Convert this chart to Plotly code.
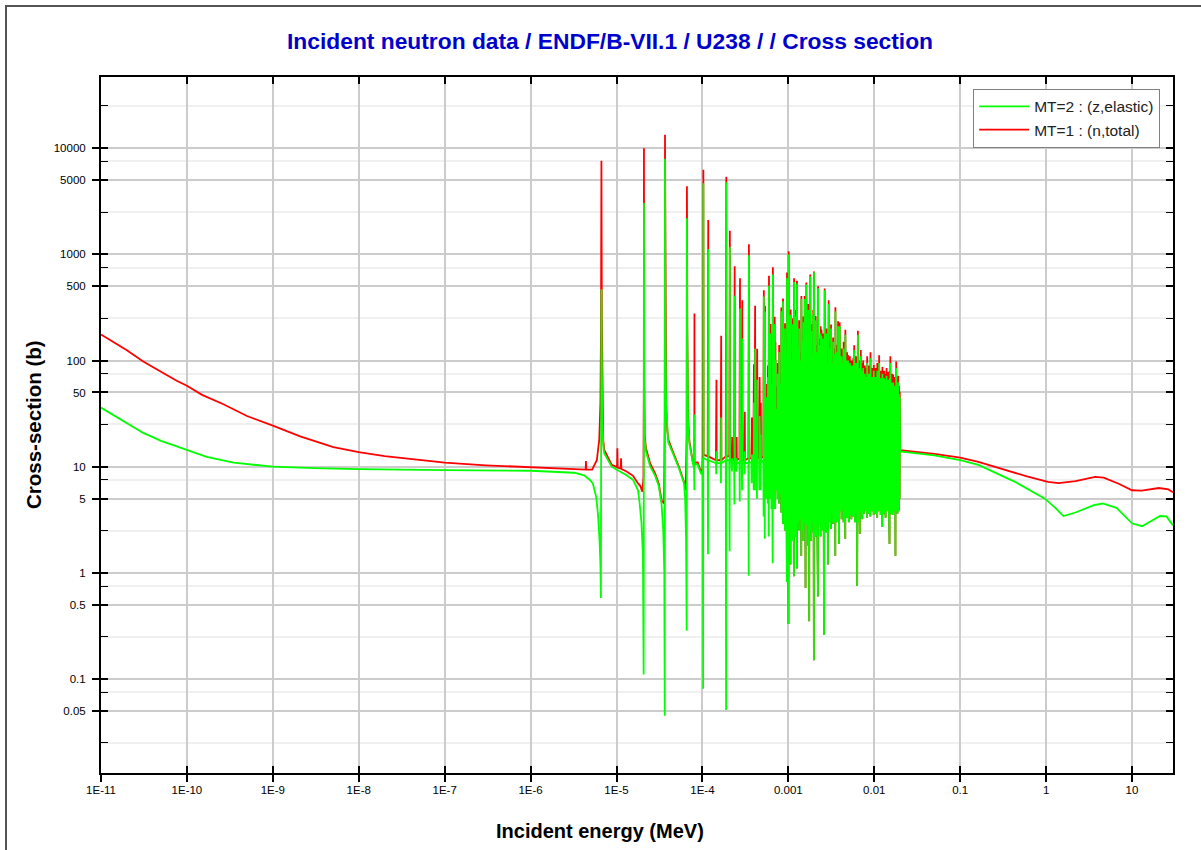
import math
import plotly.graph_objects as go

# ---------------- data (energy in MeV, cross-section in b) ----------------
# thermal / low-energy region incl. first s-wave resonances, total (MT=1)
tot_low_E = [1e-11, 2e-11, 3.1e-11, 5e-11, 7.6e-11, 1e-10, 1.5e-10, 2.66e-10, 5e-10, 1e-9,
             2.08e-9, 5.07e-9, 1e-8, 2e-8, 5e-8, 1e-7, 3e-7, 1e-6, 3e-6, 4.38e-6,
             4.41e-6, 4.44e-6, 5.2e-6, 5.9e-6, 6.3e-6, 6.5e-6, 6.6e-6, 6.674e-6, 6.75e-6, 6.85e-6,
             7.0e-6, 7.2e-6, 8.8e-6, 1.015e-5, 1.024e-5, 1.033e-5, 1.12e-5, 1.13e-5, 1.14e-5, 1.31e-5,
             1.56e-5, 1.78e-5, 1.89e-5, 2.0e-5, 2.06e-5, 2.08e-5, 2.087e-5, 2.10e-5, 2.13e-5, 2.2e-5,
             2.46e-5, 2.82e-5, 3.1e-5, 3.35e-5, 3.58e-5, 3.64e-5, 3.668e-5, 3.70e-5, 3.78e-5, 3.9e-5,
             4.0e-5, 4.6e-5, 5.3e-5, 6.1e-5, 6.4e-5, 6.55e-5, 6.603e-5, 6.67e-5, 6.8e-5, 7.06e-5,
             7.7e-5, 8.05e-5, 8.075e-5, 8.1e-5, 8.8e-5, 9.6e-5, 1.0e-4]
tot_low = [176, 125, 98, 78, 64.6, 57.8, 47.5, 38.7, 30, 24.4,
           19.3, 15.3, 13.7, 12.6, 11.6, 10.9, 10.3, 9.87, 9.5, 9.4,
           11.3, 9.4, 9.4, 11.5, 18, 40, 200, 7640, 250, 45,
           18, 14.4, 10.4, 9.9, 14.9, 9.8, 9.6, 12.0, 9.5, 9.0,
           8.2, 6.95, 6.6, 5.8, 8, 60, 10000, 80, 20, 15,
           10.8, 8.6, 6.95, 4.8, 4.5, 30, 13400, 300, 40, 22,
           18, 13.4, 10.1, 7.2, 6.0, 20, 4390, 200, 30, 17.3,
           11.3, 10.8, 277, 10.8, 11, 9.0, 9.5]

# same region, elastic (MT=2)
el_low_E = [1e-11, 2e-11, 3.1e-11, 5e-11, 1e-10, 1.7e-10, 3.5e-10, 1e-9, 3e-9, 1e-8,
            1e-7, 1e-6, 3.2e-6, 4.2e-6, 4.9e-6, 5.3e-6, 5.8e-6, 6.1e-6, 6.35e-6, 6.5e-6,
            6.58e-6, 6.63e-6, 6.674e-6, 6.75e-6, 6.85e-6, 7.0e-6, 7.2e-6, 8.8e-6, 1.0e-5, 1.31e-5,
            1.56e-5, 1.78e-5, 1.86e-5, 1.95e-5, 2.03e-5, 2.07e-5, 2.08e-5, 2.087e-5, 2.10e-5, 2.13e-5,
            2.2e-5, 2.46e-5, 2.82e-5, 3.1e-5, 3.35e-5, 3.5e-5, 3.6e-5, 3.645e-5, 3.66e-5, 3.668e-5,
            3.70e-5, 3.78e-5, 3.9e-5, 4.0e-5, 4.6e-5, 5.3e-5, 6.1e-5, 6.3e-5, 6.45e-5, 6.56e-5,
            6.59e-5, 6.603e-5, 6.67e-5, 6.8e-5, 7.06e-5, 7.7e-5, 8.0e-5, 8.06e-5, 8.075e-5, 8.1e-5,
            8.8e-5, 9.6e-5, 1.0e-4]
el_low = [36, 26, 20.8, 17.5, 14.4, 12.4, 10.9, 10.0, 9.7, 9.5,
          9.3, 9.16, 8.77, 8.3, 7.5, 6.95, 5.2, 3.5, 2.0, 1.2,
          0.58, 8, 470, 90, 30, 16, 13.3, 10.0, 9.4, 8.3,
          7.5, 6.0, 4.5, 3.0, 1.5, 0.11, 10, 3050, 60, 18,
          14, 10.1, 8.2, 6.6, 4.4, 2.5, 1.0, 0.045, 10, 7960,
          250, 38, 21, 17, 13, 9.8, 7.0, 5.0, 2.0, 0.285,
          10, 2190, 150, 28, 16.5, 11, 9.5, 6.0, 31, 10.5,
          10.5, 8.6, 8.5]

# isolated resolved resonances (~0.1 - 0.7 keV)
iso_E = [1.0256e-4, 1.169e-4, 1.457e-4, 1.653e-4, 1.897e-4, 2.085e-4, 2.22e-4, 2.374e-4, 2.50e-4, 2.737e-4,
         2.91e-4, 3.113e-4, 3.478e-4, 3.769e-4, 3.976e-4, 4.103e-4, 4.34e-4, 4.63e-4, 4.78e-4, 5.185e-4,
         5.354e-4, 5.58e-4, 5.80e-4, 5.951e-4, 6.199e-4, 6.40e-4, 6.611e-4, 6.941e-4, 7.083e-4]
iso_tot_peak = [6280, 2110, 66, 171, 5400, 1670, 19, 774, 19, 597,
                369, 33, 1245, 29, 92, 328, 129, 70, 40, 459,
                328, 60, 90, 630, 221, 80, 755, 259, 150]
iso_el_peak = [4680, 1120, 14, 29, 4780, 1170, 12, 408, 12, 309,
               160, 14, 980, 13, 40, 129, 66, 30, 20, 400,
               290, 45, 70, 507, 180, 60, 645, 220, 100]
iso_el_dip = [0.081, 1.5, 8.5, 7.0, 0.051, 1.6, 9.0, 4.4, 9.0, 4.7,
              6.0, 8.5, 0.94, 7.0, 6.0, 6.0, 5.0, 6.0, 6.0, 3.4,
              2.1, 5.0, 4.5, 2.2, 5.0, 4.0, 1.23, 4.0, 4.0]
iso_tot_base = [13, 12.5, 11.5, 11.5, 12.5, 12.5, 11.5, 11.5, 11.5, 12,
                11.5, 11.5, 12, 12, 12, 12, 12, 12, 12, 12.5,
                12.5, 12, 12, 12.5, 12, 12, 12.5, 12, 12]
iso_el_base = [12, 11.5, 10.8, 10.8, 11.5, 11.5, 10.8, 10.8, 10.8, 11,
               10.8, 10.8, 11, 11, 11, 11, 11, 11, 11, 11.5,
               11.5, 11, 11, 11.5, 11, 11, 11.5, 11, 11]

# dense resolved resonances (~0.7 keV - 20 keV)
dense_E = [7.30e-4, 7.52e-4, 7.82e-4, 8.05e-4, 8.29e-4, 8.48e-4, 8.67e-4, 8.90e-4, 9.15e-4, 9.40e-4,
           9.65e-4, 9.85e-4, 1.008e-3, 1.035e-3, 1.064e-3, 1.10e-3, 1.131e-3, 1.166e-3, 1.195e-3, 1.225e-3,
           1.26e-3, 1.298e-3, 1.335e-3, 1.38e-3, 1.418e-3, 1.46e-3, 1.50e-3, 1.55e-3, 1.59e-3, 1.62e-3,
           1.665e-3, 1.71e-3, 1.755e-3, 1.80e-3, 1.85e-3, 1.90e-3, 1.95e-3, 1.99e-3, 2.04e-3, 2.08e-3,
           2.13e-3, 2.18e-3, 2.22e-3, 2.27e-3, 2.33e-3, 2.38e-3, 2.43e-3, 2.49e-3, 2.55e-3, 2.61e-3,
           2.65e-3, 2.71e-3, 2.78e-3, 2.84e-3, 2.90e-3, 2.95e-3, 3.02e-3, 3.08e-3, 3.14e-3, 3.22e-3,
           3.32e-3, 3.40e-3, 3.46e-3, 3.53e-3, 3.61e-3, 3.69e-3, 3.79e-3, 3.90e-3, 3.96e-3, 4.06e-3,
           4.17e-3, 4.28e-3, 4.40e-3, 4.50e-3, 4.61e-3, 4.72e-3, 4.83e-3, 4.95e-3, 5.07e-3, 5.20e-3,
           5.30e-3, 5.43e-3, 5.57e-3, 5.70e-3, 5.84e-3, 5.98e-3, 6.13e-3, 6.25e-3, 6.34e-3, 6.45e-3,
           6.62e-3, 6.80e-3, 6.97e-3, 7.14e-3, 7.28e-3, 7.43e-3, 7.60e-3, 7.78e-3, 7.96e-3, 8.12e-3,
           8.27e-3, 8.45e-3, 8.65e-3, 8.84e-3, 9.04e-3, 9.24e-3, 9.45e-3, 9.66e-3, 9.87e-3, 1.01e-2,
           1.035e-2, 1.06e-2, 1.085e-2, 1.11e-2, 1.14e-2, 1.165e-2, 1.19e-2, 1.215e-2, 1.245e-2, 1.275e-2,
           1.305e-2, 1.335e-2, 1.36e-2, 1.39e-2, 1.42e-2, 1.455e-2, 1.49e-2, 1.51e-2, 1.54e-2, 1.575e-2,
           1.61e-2, 1.64e-2, 1.66e-2, 1.70e-2, 1.74e-2, 1.77e-2, 1.80e-2, 1.84e-2, 1.87e-2, 1.90e-2,
           1.94e-2, 1.98e-2]
dense_tot_peak = [57, 95, 140, 75, 316, 90, 385, 110, 224, 95,
                  675, 150, 1070, 180, 303, 120, 250, 597, 140, 300,
                  563, 160, 240, 120, 405, 180, 260, 405, 150, 543,
                  200, 340, 160, 646, 220, 130, 300, 690, 180, 263,
                  140, 230, 500, 160, 120, 210, 195, 140, 180, 150,
                  478, 130, 200, 110, 160, 370, 120, 150, 219, 110,
                  165, 100, 130, 318, 120, 140, 235, 150, 228, 100,
                  130, 110, 150, 95, 195, 90, 120, 113, 90, 110,
                  80, 100, 85, 105, 139, 90, 110, 80, 130, 191,
                  90, 100, 126, 80, 95, 100, 75, 90, 70, 85,
                  110, 75, 90, 80, 120, 70, 85, 75, 91, 70,
                  85, 75, 95, 70, 112, 65, 80, 70, 87, 65,
                  80, 70, 75, 85, 65, 78, 70, 80, 110, 65,
                  75, 68, 74, 62, 70, 65, 98, 60, 68, 72,
                  58, 51]
dense_el_peak = [35, 75, 120, 60, 292, 70, 360, 90, 200, 80,
                 596, 130, 1000, 160, 270, 100, 220, 550, 120, 260,
                 530, 130, 200, 100, 380, 150, 230, 380, 120, 520,
                 170, 300, 140, 620, 190, 110, 270, 677, 150, 240,
                 120, 200, 480, 140, 100, 180, 170, 120, 160, 130,
                 460, 110, 180, 95, 140, 340, 100, 130, 200, 95,
                 150, 85, 115, 290, 100, 120, 210, 130, 210, 85,
                 110, 95, 130, 80, 175, 75, 100, 100, 75, 95,
                 65, 90, 70, 90, 125, 75, 95, 65, 115, 175,
                 75, 85, 110, 65, 80, 85, 62, 75, 58, 70,
                 95, 60, 75, 65, 105, 58, 70, 62, 80, 58,
                 70, 62, 80, 58, 95, 55, 68, 58, 75, 55,
                 68, 58, 65, 72, 55, 66, 58, 68, 95, 55,
                 62, 56, 62, 52, 58, 55, 85, 50, 56, 62,
                 48, 45]
dense_el_dip = [6.0, 5.0, 4.5, 5.5, 3.7, 5.0, 2.9, 4.2, 2.5, 4.8,
                0.82, 3.0, 0.33, 2.5, 1.2, 3.5, 2.0, 0.93, 3.0, 2.2,
                1.1, 3.0, 2.5, 3.2, 1.45, 2.5, 2.0, 3.0, 0.72, 2.2,
                2.8, 1.8, 0.35, 2.5, 2.0, 3.0, 2.4, 0.15, 2.8, 2.2,
                3.2, 2.5, 0.6, 2.8, 3.5, 2.2, 3.0, 2.5, 3.2, 0.26,
                2.8, 3.0, 2.4, 3.5, 1.2, 2.8, 3.6, 3.0, 2.6, 3.8,
                2.9, 3.5, 3.0, 1.45, 3.6, 3.0, 3.3, 1.87, 3.0, 3.8,
                3.2, 4.0, 3.0, 3.6, 2.1, 4.0, 3.3, 3.8, 3.0, 4.0,
                3.5, 3.2, 4.2, 3.4, 3.8, 3.0, 4.0, 3.6, 0.75, 3.5,
                3.0, 2.33, 3.8, 4.0, 3.2, 4.2, 3.6, 4.4, 3.8, 4.0,
                3.3, 4.5, 3.6, 4.2, 3.4, 4.6, 3.8, 4.4, 3.5, 4.8,
                3.6, 4.2, 3.3, 4.5, 3.8, 4.4, 3.5, 4.6, 2.7, 4.8,
                3.6, 4.2, 3.3, 4.5, 3.8, 4.6, 3.4, 1.87, 4.4, 3.6,
                4.8, 3.5, 4.2, 3.8, 4.6, 1.45, 4.0, 4.4, 3.6, 4.8,
                3.8, 5.0]

# fast region (smooth), 20 keV - 30 MeV
tot_high_E = [2.0e-2, 5e-2, 1e-1, 1.63e-1, 3.33e-1, 6e-1, 1.05, 1.4, 2.2, 3.73, 4.68, 7.0, 10, 13, 20.5, 26.5, 30]
tot_high = [14.3, 13.2, 12.2, 11.1, 9.3, 8.1, 7.2, 7.0, 7.3, 8.0, 7.9, 6.9, 6.0, 5.95, 6.3, 6.1, 5.75]
el_high_E = [2.0e-2, 5e-2, 1e-1, 1.63e-1, 4.35e-1, 0.97, 1.28, 1.59, 2.2, 3.6, 4.55, 6.6, 10, 13.1, 21.2, 25.2, 30]
el_high = [13.9, 12.8, 11.5, 10.4, 7.2, 5.0, 4.1, 3.43, 3.7, 4.35, 4.5, 4.1, 2.93, 2.75, 3.43, 3.4, 2.8]

# axis ticks
x_tick_vals = [1e-11, 1e-10, 1e-9, 1e-8, 1e-7, 1e-6, 1e-5, 1e-4, 1e-3, 1e-2, 1e-1, 1, 10]
x_tick_text = ["1E-11", "1E-10", "1E-9", "1E-8", "1E-7", "1E-6", "1E-5", "1E-4", "0.001", "0.01", "0.1", "1", "10"]
y_tick_vals = [0.05, 0.1, 0.5, 1, 5, 10, 50, 100, 500, 1000, 5000, 10000]
y_tick_text = ["0.05", "0.1", "0.5", "1", "5", "10", "50", "100", "500", "1000", "5000", "10000"]
y_minor_vals = [0.025, 0.075, 0.25, 0.75, 2.5, 7.5, 25, 75, 250, 750, 2500, 7500, 25000]

# ---------------- build the two curves ----------------
tot_x, tot_y = list(tot_low_E), list(tot_low)
el_x, el_y = list(el_low_E), list(el_low)

for E, tp, ep, ed, tb, eb in zip(iso_E, iso_tot_peak, iso_el_peak, iso_el_dip, iso_tot_base, iso_el_base):
    tot_x += [E * 0.985, E, E * 1.006]
    tot_y += [tb, tp, tb]
    el_x += [E * 0.985, E * 0.994, E, E * 1.006]
    el_y += [eb, ed, ep, eb]

for E, tp, ep, ed in zip(dense_E, dense_tot_peak, dense_el_peak, dense_el_dip):
    tot_x += [E * 0.997, E]
    tot_y += [ed, tp]
    el_x += [E * 0.997, E]
    el_y += [ed, ep]

tot_x += tot_high_E
tot_y += tot_high
el_x += el_high_E
el_y += el_high

FONT = "Liberation Sans"
x_range = [-11, math.log10(30)]
y_range = [-1.8856, 4.671]

fig = go.Figure()
fig.add_trace(go.Scatter(x=tot_x, y=tot_y, mode="lines", name="MT=1 : (n,total)",
                         line=dict(color="#FF0000", width=1.8), legendrank=2))
fig.add_trace(go.Scatter(x=el_x, y=el_y, mode="lines", name="MT=2 : (z,elastic)",
                         line=dict(color="#00FF00", width=1.8), legendrank=1))
# empty trace that only carries the inner (mirror) tick axes
fig.add_trace(go.Scatter(x=[], y=[], xaxis="x2", yaxis="y2", showlegend=False, hoverinfo="skip"))

tickfont = dict(family=FONT, size=11.5, color="black")

fig.update_layout(
    width=1201, height=850,
    margin=dict(l=101, r=28, t=77, b=77),
    paper_bgcolor="white", plot_bgcolor="white",
    showlegend=True,
    xaxis=dict(type="log", range=x_range, autorange=False,
               tickmode="array", tickvals=x_tick_vals, ticktext=x_tick_text,
               ticks="outside", ticklen=7, tickwidth=1.5, tickcolor="black",
               showline=True, linecolor="black", linewidth=2, mirror=True,
               showgrid=True, gridcolor="#CCCCCC", gridwidth=1.5, zeroline=False,
               tickfont=tickfont, ticklabelstandoff=-2),
    yaxis=dict(type="log", range=y_range, autorange=False,
               tickmode="array", tickvals=y_tick_vals, ticktext=y_tick_text,
               ticks="outside", ticklen=7, tickwidth=1.5, tickcolor="black",
               showline=True, linecolor="black", linewidth=2, mirror=True,
               showgrid=True, gridcolor="#CCCCCC", gridwidth=1.5, zeroline=False,
               tickfont=tickfont, ticklabelstandoff=4,
               minor=dict(tickmode="array", tickvals=y_minor_vals, ticks="",
                          showgrid=True, gridcolor="#F0F0F0", gridwidth=1.5)),
    xaxis2=dict(type="log", range=x_range, autorange=False, overlaying="x", side="top", anchor="y2",
                tickmode="array", tickvals=x_tick_vals, showticklabels=False,
                ticks="inside", ticklen=7, tickwidth=1.5, tickcolor="black",
                showline=True, linecolor="black", linewidth=2, mirror="ticks",
                showgrid=False, zeroline=False),
    yaxis2=dict(type="log", range=y_range, autorange=False, overlaying="y", side="right", anchor="x2",
                tickmode="array", tickvals=y_tick_vals, showticklabels=False,
                ticks="inside", ticklen=7, tickwidth=1.5, tickcolor="black",
                showline=True, linecolor="black", linewidth=2, mirror="ticks",
                showgrid=False, zeroline=False,
                minor=dict(tickmode="array", tickvals=y_minor_vals, ticks="inside",
                           ticklen=7, tickwidth=1.2, tickcolor="black", showgrid=False)),
    legend=dict(x=0.988, y=0.983, xanchor="right", yanchor="top",
                bgcolor="white", bordercolor="#808080", borderwidth=1,
                font=dict(family=FONT, size=15.5, color="#222222"),
                tracegroupgap=0, itemwidth=50),
    annotations=[
        dict(text="Incident neutron data / ENDF/B-VII.1 / U238 / / Cross section",
             xref="paper", yref="paper", x=(610 - 101) / 1072, y=(773 - 41) / 696,
             xanchor="center", yanchor="middle", showarrow=False,
             font=dict(family=FONT, size=22.8, color="#0000CC", weight="bold")),
        dict(text="Incident energy (MeV)",
             xref="paper", yref="paper", x=(600 - 101) / 1072, y=(773 - 831) / 696,
             xanchor="center", yanchor="middle", showarrow=False,
             font=dict(family=FONT, size=20, color="black", weight="bold")),
        dict(text="Cross-section (b)", textangle=-90,
             xref="paper", yref="paper", x=(33 - 101) / 1072, y=0.5,
             xanchor="center", yanchor="middle", showarrow=False,
             font=dict(family=FONT, size=20.5, color="black", weight="bold")),
    ],
    shapes=[dict(type="rect", xref="paper", yref="paper",
                 x0=(6 - 101) / 1072, x1=(1215 - 101) / 1072,
                 y0=(773 - 870) / 696, y1=(773 - 6) / 696,
                 line=dict(color="#555555", width=2), fillcolor="rgba(0,0,0,0)", layer="below")],
)

fig.write_html("out.html")
